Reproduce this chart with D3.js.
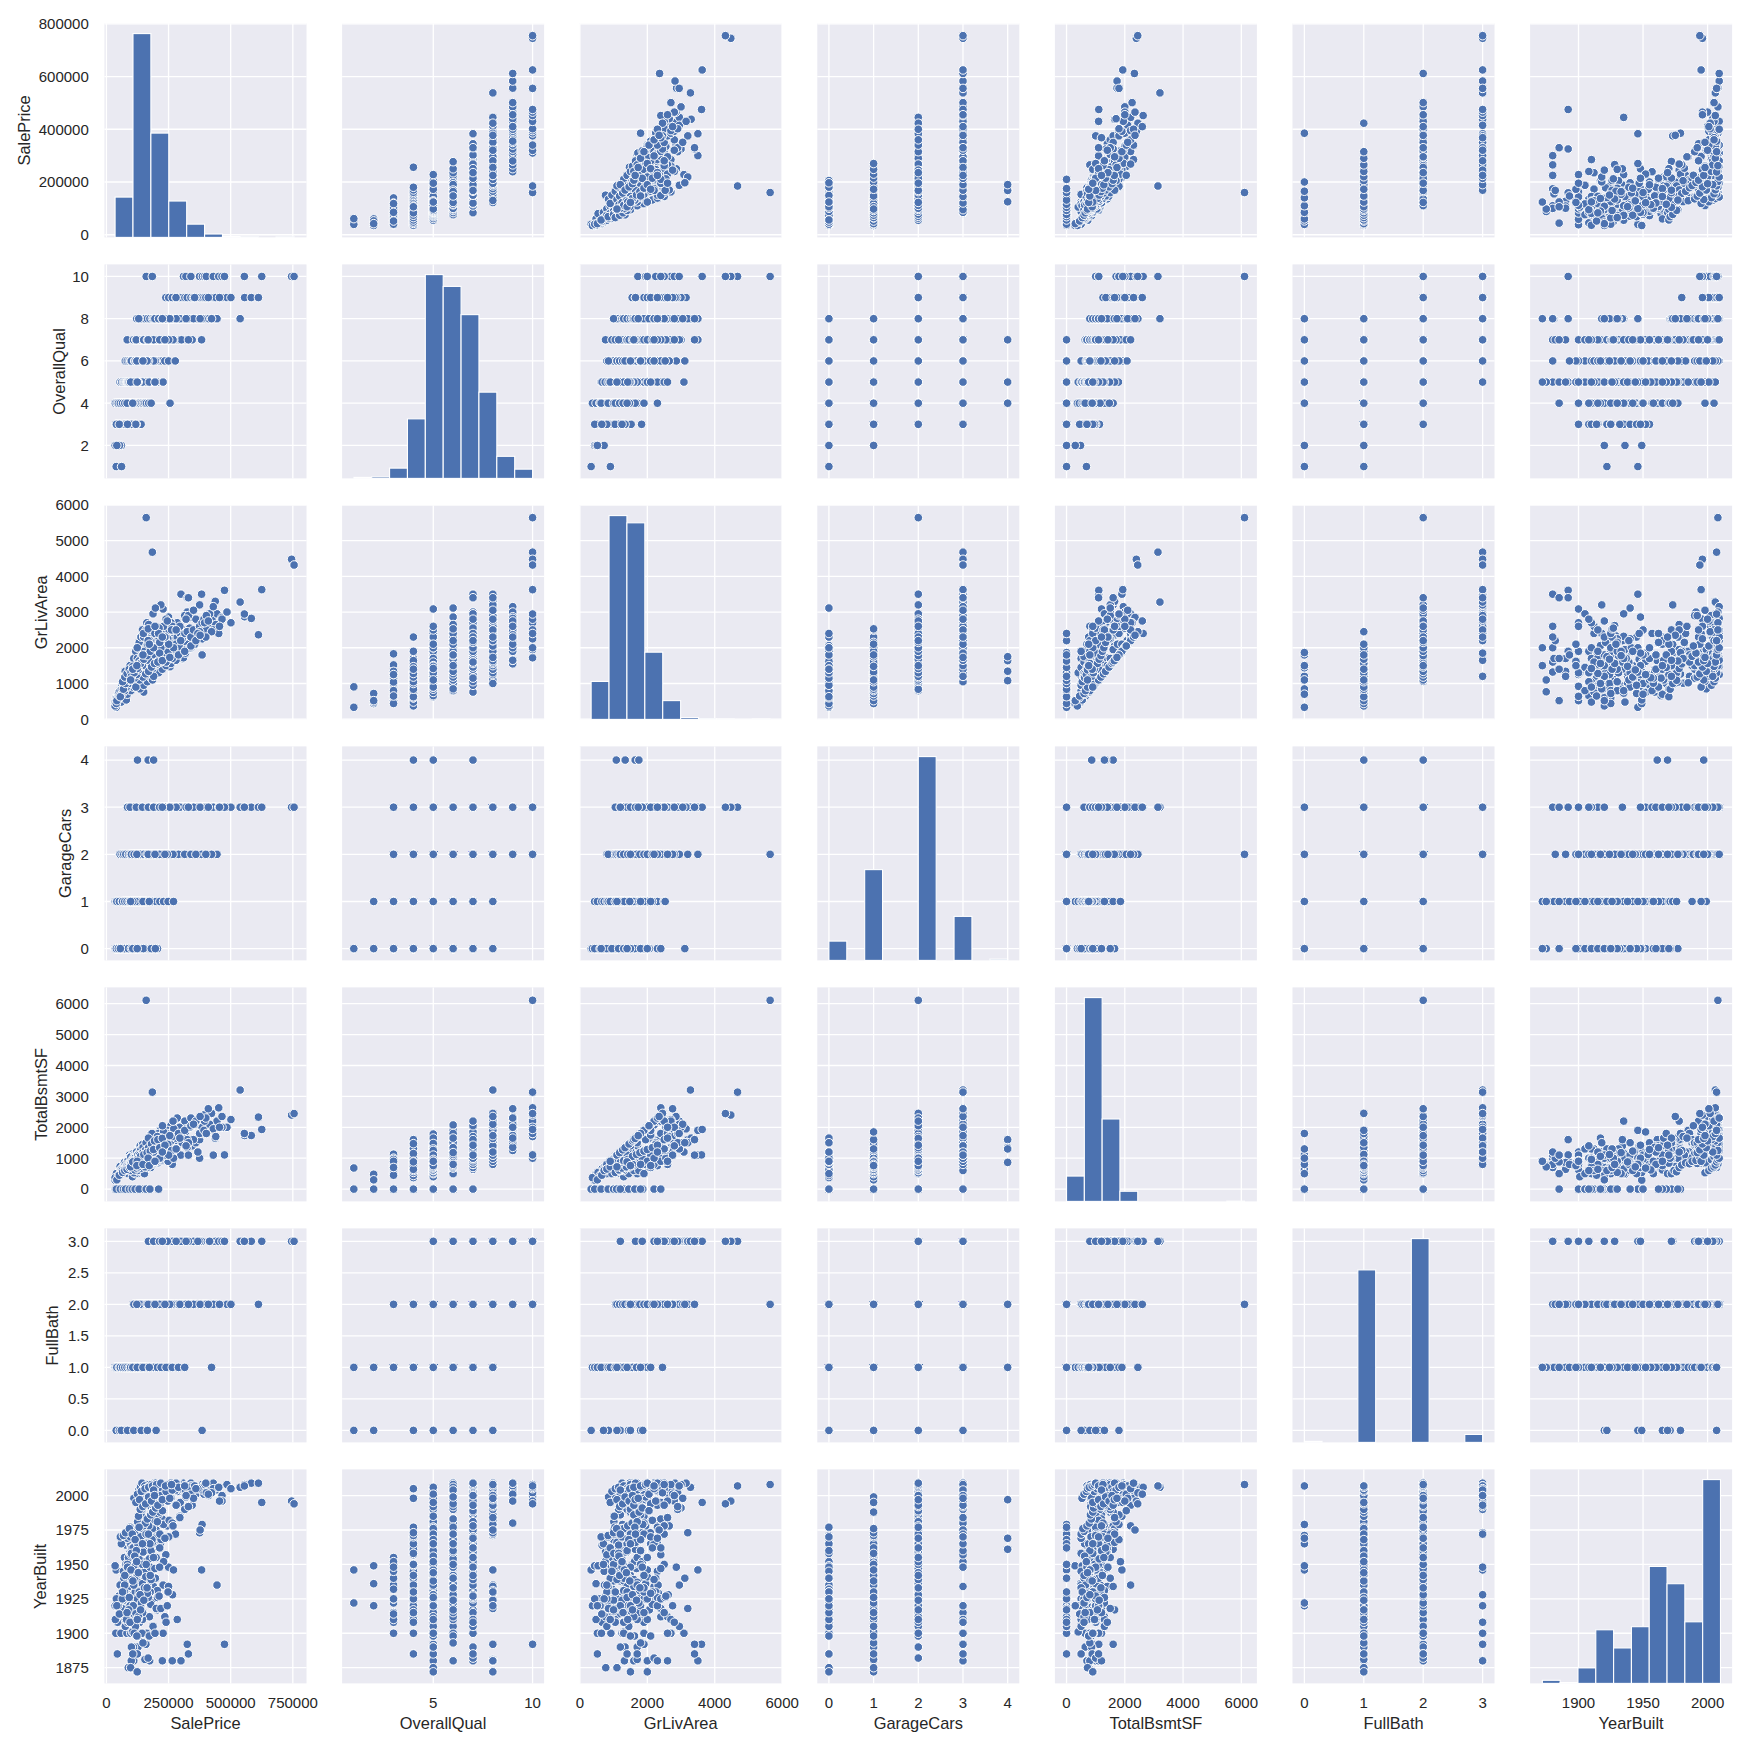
<!DOCTYPE html>
<html>
<head>
<meta charset="utf-8">
<script src="https://d3js.org/d3.v7.min.js"></script>
<style>
body { margin: 0; background: #fff; }
text { font-family: "Liberation Sans", Arial, sans-serif; fill: #262626; }
</style>
</head>
<body>
<svg id="chart"></svg>
<script>
// values, each line of ten is the same ten houses in every array
const salePrice = [
39300,61000,35000,60000,52500,37900,40000,55000,68000,85000,
139600,110000,120000,94500,45000,72500,101800,118000,82000,75500,
34900,44000,58500,66500,79000,87000,93000,99500,106000,113000,
119000,125000,130000,136000,143000,149000,155000,161000,170000,180000,
256000,55000,61500,68400,72500,76000,79900,82500,85000,88000,
91000,94000,97000,100000,103000,106000,109000,112000,115000,118000,
120000,122000,124000,126000,128000,130000,132000,134000,136000,138000,
140000,142000,144000,146000,148000,150000,153000,156000,159000,162000,
165000,168000,172000,175000,179000,183000,188000,195000,205000,228000,
110000,118500,127000,139000,151000,135000,125500,144000,167000,173000,
95000,86000,98000,115000,129000,147000,157000,90000,105000,122000,
76000,84000,92000,98000,105000,110500,115000,119500,124000,127500,
130000,133000,136500,139500,142500,145000,147500,150000,152000,155000,
157500,160000,163000,165500,168500,172000,175000,178000,181500,185000,
189000,193000,198000,204000,210000,217000,225000,235000,250000,277000,
100000,122000,128000,134000,141000,149500,158000,167000,176000,192000,
83500,109000,118000,129900,136000,140000,146000,152500,159000,163500,
168000,171000,174000,177000,180000,183500,187000,190000,193500,197000,
200000,204000,208500,213000,217500,223500,228000,233000,239000,245000,
252000,259000,266000,275000,285000,296000,310000,325000,345000,383000,
120000,155000,172500,185000,195000,206000,220000,260000,302000,150000,
122000,140000,155000,165000,175000,185000,190500,200500,210000,215000,
222000,230000,238000,245500,252500,260000,269500,278000,285000,290000,
297000,307000,315000,325500,335000,345000,360000,375000,392000,412000,
425000,438000,445000,538000,265000,300000,250000,205000,130000,385000,
239000,250580,265000,280000,295000,305000,315750,325000,340000,350000,
375000,385000,392500,403000,415000,430000,440000,465000,485000,501000,
556000,582933,611657,160000,184750,310000,320000,340000,375000,386250,
395000,402000,430000,451950,465000,475000,555000,625000,745000,755000,
165000,172000,178500,184000,191000,197500,203000,212000,224000,236000,
130500,137000,143000,149000,154500,160500,166500,173500,180500,189500,
246000,258000,271000,283000,299000,318000,335500,355000,368000,423000,
80000,87500,96000,103500,108000,113500,117000,121000,126000,131000,
36000,43000,50000,60000,70000,85000,110000,140000,165000,200000,
90000,95500,107000,112500,116000,123500,128500,133500,145000,158500,
127000,138000,145500,162500,176000,187500,205500,219000,240000,325300,
95000,110000,118000,125000,132000,139000,145000,150000,160000,170000,
135000,150000,165000,180000,195000,210000,225000,240000,260000,280000,
55000,63000,70000,78000,85000,89000,96000,102000,108000,114000,
155000,170000,185000,200000,215000,230000,248000,270000,185500,175500,
190000,205000,220000,240000,265000,290000,315000,340000,360000,400000,
112000,126500,138500,148500,156500,164500,178500,186500,198500,216000,
84500,98500,107500,117500,127500,137500,147500,159500,171500,183500,
205000,225500,247000,268000,295500,330000,350500,377000,410000,455000,
40000,48000,73000,88000,100500,113500,126500,149000,180500,197000,
42000,52000,64000,73500,81000,89500,101000,124500,143500,168500,
105000,117000,129000,141000,153000,165000,180000,195000,212000,245000,
56000,68500,77000,92500,104000,115500,131500,160000,175000,210000,
110500,125000,140500,155500,170500,185500,202000,219000,238000,262000,
85000,95000,120500,145000,169000,190000,214000,250500,280500,320500,
118500,133500,146500,158000,169500,181500,193500,207000,225000,255000,
65000,74000,83000,92000,99000,106500,114000,121500,128500,135500,
100500,111500,124500,137500,150500,163500,176500,189500,214500,235500,
97500,106000,124000,122500,147000,168000,172500,195500,225000,330000
];
const overallQual = [
1,1,2,2,2,3,3,3,3,3,
3,3,3,3,3,3,3,3,3,3,
4,4,4,4,4,4,4,4,4,4,
4,4,4,4,4,4,4,4,4,4,
4,5,5,5,5,5,5,5,5,5,
5,5,5,5,5,5,5,5,5,5,
5,5,5,5,5,5,5,5,5,5,
5,5,5,5,5,5,5,5,5,5,
5,5,5,5,5,5,5,5,5,5,
5,5,5,5,5,5,5,5,5,5,
5,5,5,5,5,5,5,5,5,5,
6,6,6,6,6,6,6,6,6,6,
6,6,6,6,6,6,6,6,6,6,
6,6,6,6,6,6,6,6,6,6,
6,6,6,6,6,6,6,6,6,6,
6,6,6,6,6,6,6,6,6,6,
7,7,7,7,7,7,7,7,7,7,
7,7,7,7,7,7,7,7,7,7,
7,7,7,7,7,7,7,7,7,7,
7,7,7,7,7,7,7,7,7,7,
7,7,7,7,7,7,7,7,7,7,
8,8,8,8,8,8,8,8,8,8,
8,8,8,8,8,8,8,8,8,8,
8,8,8,8,8,8,8,8,8,8,
8,8,8,8,8,8,8,8,8,8,
9,9,9,9,9,9,9,9,9,9,
9,9,9,9,9,9,9,9,9,9,
9,9,9,10,10,10,10,10,10,10,
10,10,10,10,10,10,10,10,10,10,
7,7,7,7,7,7,7,7,7,7,
5,5,6,6,6,6,6,6,6,6,
8,8,7,8,8,8,8,9,8,8,
4,5,5,5,5,6,5,5,6,6,
4,4,4,4,4,5,5,5,6,7,
5,4,5,5,6,6,5,6,6,7,
5,5,6,7,6,7,7,8,7,8,
5,5,5,5,6,5,5,6,6,6,
6,7,7,7,8,8,8,8,8,9,
3,4,4,4,4,5,5,5,5,5,
6,6,7,7,7,7,8,8,6,7,
6,7,7,8,8,8,8,8,8,9,
5,5,6,6,6,6,7,7,7,7,
4,4,5,5,5,5,6,6,6,6,
7,7,8,7,8,8,8,8,9,9,
3,4,4,5,4,5,5,6,6,6,
2,3,4,4,4,4,5,5,6,6,
5,5,5,6,6,6,7,7,7,8,
4,4,4,5,5,5,6,6,6,7,
5,5,6,6,6,7,7,7,8,8,
3,4,5,5,6,6,7,7,8,8,
5,6,6,6,6,7,7,7,8,8,
4,4,4,5,5,5,5,5,5,6,
5,5,5,6,6,6,7,7,7,7,
5,4,5,6,6,7,5,5,8,7
];
const grLivArea = [
334,905,438,480,720,520,630,730,900,1100,
1300,1150,1520,960,660,1000,1040,1830,1250,1340,
372,520,640,848,760,1000,1100,900,1230,1150,
1340,1080,1480,1200,1570,1700,1320,1900,1640,2300,
1470,630,800,720,860,1040,660,920,1000,768,
1100,864,1200,912,1040,1144,1320,1000,1260,1092,
1225,1056,1460,1152,1500,1340,1620,1296,1100,1680,
1360,1144,1600,1248,1800,1400,1700,1500,1900,1264,
1650,1344,2000,1500,1782,2250,1840,2117,2060,3086,
1600,1450,1700,1200,1350,1900,1008,1150,1360,2400,
1040,900,1250,1520,1020,1252,1476,840,960,1120,
800,960,1100,1040,1216,1300,1152,1400,1220,1500,
1262,1456,1120,1590,1352,1700,1240,1548,1800,1080,
1638,1400,1900,1470,2000,1760,1262,2150,1580,1650,
2200,1720,2330,1840,2300,1900,2400,2600,2860,2200,
1320,1200,1092,1364,1458,1620,1230,1950,1440,1550,
1250,1340,1500,1774,1400,1717,1450,1600,1900,1320,
1365,1500,2000,1680,1650,1550,2090,1750,1800,2250,
1800,1710,1710,1786,2100,1786,2320,1900,2400,1950,
2500,2050,2620,2300,2700,1900,2500,3000,2850,3500,
1100,1200,1240,1400,1500,1650,1800,2200,2100,760,
1500,1100,1700,1400,2200,1650,1300,2400,1800,1900,
2000,2600,1700,1900,2150,2700,1850,2500,2300,2000,
2400,1694,2900,2100,2550,2300,2800,3200,2450,2650,
2800,3300,2950,3279,2600,3500,1600,1300,1000,1800,
1550,1650,1900,2100,2000,2250,2400,2450,2300,2500,
2600,2700,2800,2500,2950,3150,2650,2850,3000,2700,
2868,2822,2364,5642,4676,1720,1950,2000,2450,2250,
2700,2900,2500,2400,2800,3608,2945,3627,4476,4316,
1470,1500,1580,1650,1700,1480,1820,1600,1900,2050,
1050,1200,1250,1100,1350,1450,1500,1600,1640,1800,
1800,1750,1950,1700,2200,1850,2000,2100,2400,2450,
540,750,864,864,960,1040,1092,1200,1000,1120,
480,600,760,700,1000,1200,1100,1440,1866,1500,
1000,1300,1500,1250,1400,1600,1700,1800,1950,2000,
2000,2300,2500,2700,2250,2950,2300,3200,2800,3400,
1500,1700,1900,2000,2150,2300,2500,2300,2500,2650,
850,950,1050,1150,1250,1300,1400,1500,1560,1650,
800,850,900,1000,1050,1100,840,1150,1200,1250,
1300,1500,1400,1700,1600,1850,1900,2000,1100,1500,
1500,1550,1650,1600,1700,1800,1900,2050,2200,2300,
1000,1180,1300,1420,1550,1680,1600,1760,1850,2100,
700,800,900,1008,1150,1250,1350,1500,1650,1800,
1700,2050,2250,2500,2600,2900,3050,2350,2750,2600,
440,600,800,950,1150,1300,1400,2400,1800,3112,
520,650,720,800,900,1000,1100,1700,1900,2530,
1300,1450,1600,1750,1900,2100,2200,2400,2550,2750,
630,840,1000,1090,1200,1450,1630,1800,2200,2400,
1060,1200,1350,1480,1600,1800,1950,2000,2200,2500,
1250,1300,1400,1500,1650,1200,1850,2100,2500,2800,
900,1100,1180,1270,1340,1460,1560,1600,1640,1730,
1050,1180,1280,1400,1320,1480,1160,1250,1380,1560,
1200,1300,1420,1560,1680,1780,1900,2000,2150,2300,
1100,1400,2000,1500,1800,2200,2100,2600,2300,3400
];
const garageCars = [
0,0,1,0,0,0,1,0,1,1,
1,2,1,0,0,1,2,0,3,1,
0,0,1,0,1,1,2,1,1,2,
1,4,1,2,2,1,2,0,4,2,
2,0,0,1,1,0,1,1,1,0,
1,1,1,1,2,1,1,2,1,1,
1,1,2,2,1,2,0,2,2,1,
2,2,2,2,2,1,2,2,1,2,
2,4,2,2,3,2,1,2,0,3,
1,0,1,2,2,0,2,2,2,2,
0,0,1,1,2,2,2,1,1,1,
0,0,1,1,1,1,2,0,1,2,
2,1,1,2,2,1,2,2,0,2,
2,2,1,2,2,2,2,2,2,2,
2,2,2,3,2,2,3,2,2,3,
1,2,1,2,1,0,2,2,2,2,
1,1,1,2,2,3,2,2,1,2,
2,2,1,2,2,2,2,4,2,2,
2,3,2,2,2,2,2,3,3,2,
3,3,2,3,3,2,3,3,3,2,
1,1,2,2,2,2,2,3,3,1,
1,0,1,2,2,2,2,2,2,2,
2,2,2,3,2,3,2,3,2,3,
3,2,3,3,3,3,3,3,3,3,
3,3,2,3,3,3,3,2,1,3,
2,2,3,3,3,3,3,3,3,3,
3,3,3,3,3,3,3,3,3,3,
3,3,3,2,3,3,3,2,3,3,
3,3,3,3,3,3,3,3,3,3,
2,2,2,2,2,2,2,3,3,3,
2,2,2,2,2,2,2,2,2,2,
3,3,2,3,3,3,3,3,3,2,
0,1,1,1,1,1,1,1,2,1,
0,0,1,0,1,1,1,1,2,2,
1,1,1,1,1,1,1,1,2,1,
0,1,1,2,2,2,0,2,2,3,
1,1,0,1,1,2,1,2,2,2,
1,2,2,2,2,2,2,2,3,3,
2,2,2,2,3,2,2,2,3,2,
1,1,1,1,1,1,1,1,0,0,
2,2,2,2,2,2,2,2,2,2,
1,2,2,2,2,2,2,2,2,2,
1,1,1,1,2,1,2,2,2,2,
2,2,2,2,3,3,3,3,3,3,
0,0,0,0,0,0,0,0,0,0,
1,1,1,1,1,1,1,1,1,1,
1,1,1,1,2,2,2,2,2,2,
0,1,1,1,2,2,2,2,2,2,
2,2,2,2,2,2,2,2,3,3,
3,3,3,3,3,3,3,3,3,3,
1,2,2,2,2,2,2,2,2,3,
1,1,1,1,1,1,2,2,2,2,
2,2,2,2,2,2,2,2,2,2,
1,0,0,2,1,2,1,2,3,3
];
const totalBsmtSF = [
0,683,290,480,0,0,500,730,530,810,
1130,790,1000,960,0,816,720,0,900,620,
372,0,640,600,0,780,1100,880,1000,860,
960,864,1220,1200,1300,1000,1320,1000,1600,1150,
1470,0,620,720,860,800,660,0,920,768,
864,864,1000,912,1040,1144,0,1000,960,1092,
1056,1056,1150,1152,600,1340,850,1296,1100,1400,
1360,1144,1150,1248,1000,1400,1080,1500,900,1264,
1160,1344,1100,1500,1782,1200,1000,1150,1650,1200,
720,0,800,1200,1350,1000,1008,1150,1360,1100,
1040,900,630,1000,1020,1252,1476,840,960,1120,
0,800,800,1040,900,1000,1152,0,860,1000,
1262,1000,1120,1100,1352,900,1240,1200,800,1080,
830,1400,910,1470,1050,880,1262,1100,1580,830,
1180,900,1040,920,1600,1900,1200,1300,1420,2076,
700,1200,1092,1364,0,800,1230,975,1440,1550,
800,640,700,952,1400,756,1450,800,900,1320,
1365,1500,1000,840,830,1550,1107,1300,900,1120,
1000,1400,856,920,1050,920,1160,1250,1200,1600,
1300,2050,1250,1560,1300,1900,1700,1500,1400,1900,
1100,800,1240,1400,1500,1650,1800,1400,1750,760,
900,1100,840,1400,1100,1650,1300,1200,1800,1000,
1040,1300,1700,1900,1100,1350,1850,1300,2300,2000,
1800,1686,1450,2100,2000,2200,1500,1600,2400,1900,
2000,1650,2200,3206,800,1100,1600,1300,1000,1800,
1550,1650,1250,1900,2000,1500,2200,1350,2300,1600,
1800,2000,1900,2200,2100,1950,1700,2350,2000,2250,
1734,1734,2330,6110,3138,1700,1950,2000,1000,2250,
2200,1800,1100,2630,2000,1107,1800,1930,2396,2444,
1470,1500,700,800,850,1480,900,1600,950,1000,
1050,1200,1250,1100,1350,1450,740,800,820,900,
1800,1750,1950,1700,1100,1850,2000,2100,1200,2450,
540,750,864,864,960,1040,1092,1200,1000,1120,
0,0,0,620,0,500,800,1300,0,1000,
600,700,800,700,900,650,750,1000,1000,800,
1000,1100,1200,1100,1150,1300,1100,1500,1400,1600,
600,500,800,700,750,1000,900,760,1000,1200,
850,950,1050,1150,1250,1300,1400,1500,1560,1650,
500,0,600,700,0,800,840,900,1000,1000,
1300,1400,1100,1500,1600,1850,900,1000,1100,800,
1500,1550,1650,1600,1700,1800,1900,2050,2200,2300,
500,600,560,700,780,850,820,900,930,1040,
0,800,0,500,1150,1250,1350,1500,1650,1800,
1700,2050,1450,2200,1650,1500,2100,2350,2600,2000,
0,440,0,500,900,0,1100,1000,1200,1500,
300,450,600,650,720,0,900,500,800,1300,
400,500,600,600,500,700,800,900,1000,1100,
0,0,0,0,0,0,0,0,0,0,
530,600,680,720,780,880,950,1000,1100,1250,
700,600,800,900,1650,1200,1000,1100,1300,1400,
900,1100,1180,1270,1340,1460,1560,1600,1640,1730,
540,600,640,700,800,880,620,680,720,800,
860,920,960,1060,1120,1180,1230,1280,1340,1420,
720,880,900,760,800,1000,760,900,1200,1100
];
const fullBath = [
0,1,1,1,0,1,1,1,1,1,
1,1,1,1,1,1,1,2,1,1,
1,1,1,0,1,1,1,1,1,1,
1,1,2,1,1,2,2,2,1,2,
2,1,1,1,1,1,1,1,1,1,
1,1,1,1,1,1,1,1,1,1,
1,1,2,1,2,1,1,1,1,1,
1,1,2,1,2,1,2,1,2,2,
2,2,2,2,2,2,2,2,1,3,
1,1,2,2,1,1,1,1,2,2,
1,1,1,1,1,1,1,1,1,1,
1,1,1,1,1,1,1,1,1,1,
1,1,1,2,1,2,2,2,2,2,
2,2,2,2,2,2,2,2,2,2,
2,2,2,2,2,2,2,2,2,3,
1,1,1,1,1,1,2,2,2,2,
1,1,1,2,2,1,2,2,2,2,
2,2,2,2,2,2,2,2,2,2,
2,2,2,2,2,2,2,2,2,2,
2,2,3,2,2,2,2,3,2,3,
1,1,1,2,2,2,2,2,2,1,
1,0,1,1,2,2,2,2,2,2,
2,2,2,2,2,2,2,2,2,2,
2,2,3,2,2,2,2,3,2,2,
2,3,2,3,3,3,2,2,1,0,
2,2,2,2,2,2,2,2,2,3,
2,2,2,2,3,2,2,3,2,2,
3,3,2,2,3,2,2,2,2,2,
2,2,2,3,3,3,3,3,3,3,
2,2,2,2,2,2,2,2,2,2,
1,1,2,2,2,2,2,2,2,2,
2,2,2,2,2,2,2,2,3,1,
1,1,1,1,1,1,1,1,1,1,
1,1,1,0,1,0,0,0,0,0,
1,1,1,1,1,2,1,2,2,2,
2,2,2,2,2,2,2,2,3,3,
1,2,2,2,2,2,2,2,2,2,
1,1,1,2,2,2,2,2,2,2,
1,1,1,1,1,1,1,1,2,1,
1,1,1,1,1,1,1,1,1,1,
1,1,1,1,1,1,1,2,2,2,
1,1,2,2,2,2,2,2,2,2,
1,1,1,1,1,1,1,1,2,2,
2,2,2,2,2,3,2,2,2,2,
1,1,1,1,1,1,1,2,2,2,
1,1,1,1,1,1,1,2,2,2,
1,1,1,2,2,2,2,2,2,3,
1,1,1,1,1,1,2,2,2,2,
2,2,2,2,2,2,2,2,2,2,
1,1,1,2,3,3,3,2,3,3,
1,2,2,2,2,2,2,2,2,2,
1,1,1,1,1,1,1,1,1,2,
1,1,1,1,1,2,2,2,2,2,
1,1,1,2,1,2,1,2,3,2
];
const yearBuilt = [
1946,1922,1949,1936,1920,1900,1910,1935,1922,1955,
1950,1914,1940,1932,1908,1925,1945,1910,1952,1915,
1920,1885,1900,1922,1912,1938,1968,1950,1928,1965,
1936,1961,1925,1970,1977,1950,1998,1932,1961,1945,
2005,1920,1930,1945,1955,1910,1964,1900,1950,1875,
1948,1958,1938,1962,1970,1960,1926,1975,1940,1953,
1956,1967,1931,1968,1919,1972,1898,1974,1977,1947,
1965,1976,1950,1966,1915,1959,1928,1978,1892,1979,
1971,1969,1940,1973,1995,1924,1937,1982,1917,1900,
1880,1905,1890,1986,2005,1908,1981,1990,2001,1912,
1977,1910,1900,1916,1985,1992,2006,1934,1943,1951,
1905,1915,1925,1964,1947,1938,1960,1920,1954,1942,
1967,1930,1958,1918,1972,1910,1976,1950,1926,2000,
1975,1993,1935,2005,1940,1969,1976,1921,2006,1998,
1934,2001,1929,2003,1979,2007,1983,1912,1948,2008,
1880,1968,1956,1963,1940,1952,2004,1997,2008,2009,
1917,1890,1922,1931,1990,1915,2006,1939,1925,2003,
2004,1999,1880,1994,1992,2007,1973,1997,2000,1940,
1975,2006,2003,2001,1965,2002,1935,2005,1957,1978,
2004,2008,1928,2007,1910,1985,2009,1991,2006,1946,
1950,1945,1954,1962,1988,1970,1968,2009,2003,1959,
1872,1971,1881,1934,1929,1976,1994,1918,1986,1972,
1998,1979,2005,2007,1982,1998,2008,1972,2003,2006,
1995,2004,1990,2008,2005,1993,2001,1973,2007,2000,
2003,2006,1935,2006,1880,1880,1934,1931,1924,1979,
2006,1999,1980,2004,2008,2005,2003,2007,2009,2006,
2005,2008,2001,2007,2006,2009,2004,2000,2008,2005,
2008,2009,2009,2008,2007,2005,1999,2007,2006,2004,
2008,2002,2005,2006,1996,1892,2007,1995,1996,1994,
2005,2006,2007,2004,2003,2009,2002,2008,2007,2005,
2004,2006,2009,2005,2007,2005,2006,2003,2008,2004,
2006,2007,2008,2009,2005,2004,2006,2007,2005,2002,
1949,1952,1957,1961,1955,1963,1965,1959,1968,1954,
1910,1925,1927,1965,1918,1969,1949,1922,1979,2007,
1916,1921,1928,1924,1930,1926,1937,1920,1936,1941,
1910,1920,1915,1900,1930,1905,1926,1918,1908,1892,
1920,1935,1915,1925,1930,1977,1950,1965,1972,1978,
1999,2003,2005,2006,2004,2007,2005,2008,2006,2009,
1925,1918,1940,1950,1908,1955,1970,1962,1920,1971,
1960,1965,1940,1955,1988,1952,1930,1946,1966,1948,
1990,1994,2000,2003,2004,2006,2007,2001,2005,2009,
1972,1974,1976,1978,1980,1983,1986,1988,1991,1994,
1950,1957,1962,1958,1964,1970,1959,1972,1966,1968,
1981,1989,1996,1978,1984,1992,1998,1975,2001,1996,
1925,1920,1930,1945,1958,1940,1965,1925,1960,1940,
1920,1914,1925,1935,1910,1917,1939,1885,1900,1926,
1901,1905,1912,1922,1933,1929,1939,1947,1927,1920,
1970,1971,1973,1976,1972,1968,1977,1950,1965,1962,
1998,2001,2003,2005,2006,2007,2008,2009,2007,2008,
1948,1908,1960,1965,1972,2004,1948,1970,1993,2000,
1995,1997,1992,1994,1999,1996,2000,1993,1997,1998,
1930,1942,1915,1926,1946,1938,1956,1952,1944,1928,
1890,1900,1910,1917,1924,1933,1942,1955,1962,1969,
1875,1885,1872,1898,1893,1882,1898,1900,1880,1885
];

// bar heights of the diagonal, ten equal bins between each variable's min and max
const salePriceCounts = [143,723,370,129,47,12,3,2,0,2];
const overallQualCounts = [2,3,20,116,397,374,319,168,43,18];
const grLivAreaCounts = [105,564,544,186,52,5,2,1,0,1];
const garageCarsCounts = [78,0,367,0,0,824,0,178,0,5];
const totalBsmtSFCounts = [115,925,374,46,0,0,0,0,0,1];
const fullBathCounts = [4,0,0,650,0,0,768,0,0,30];
const yearBuiltCounts = [7,2,35,121,80,128,264,225,139,460];

const names = ['SalePrice','OverallQual','GrLivArea','GarageCars','TotalBsmtSF','FullBath','YearBuilt'];
const columns = [salePrice,overallQual,grLivArea,garageCars,totalBsmtSF,fullBath,yearBuilt];
const counts = [salePriceCounts,overallQualCounts,grLivAreaCounts,garageCarsCounts,totalBsmtSFCounts,fullBathCounts,yearBuiltCounts];
const binRanges = [[34900,755000],[1,10],[334,5642],[0,4],[0,6110],[0,3],[1872,2010]];

const xDomains = [[-7700,805000],[0.41,10.58],[-5,5985],[-0.26,4.26],[-400,6535],[-0.2,3.2],[1862.5,2019]];
const yDomains = [[-10100,801500],[0.44,10.57],[-5,5985],[-0.25,4.29],[-398,6527],[-0.19,3.205],[1863.6,2019]];
const xTicks = [[0,250000,500000,750000],[5,10],[0,2000,4000,6000],[0,1,2,3,4],[0,2000,4000,6000],[0,1,2,3],[1900,1950,2000]];
const yTicks = [
    [0,200000,400000,600000,800000],
    [2,4,6,8,10],
    [0,1000,2000,3000,4000,5000,6000],
    [0,1,2,3,4],
    [0,1000,2000,3000,4000,5000,6000],
    [0,0.5,1,1.5,2,2.5,3],
    [1875,1900,1925,1950,1975,2000]
];
const yTickFormat = [String,String,String,String,String,d3.format('.1f'),String];
const yLabelX = [24,59,41,65,41,52,40];

const panelW = 202, panelH = 214, stepX = 237.6, stepY = 241;
const panelLeft = 104.5, panelTop = 23.4;
const blue = '#4c72b0', panelBg = '#eaeaf2';

const svg = d3.select('#chart').attr('width',1750).attr('height',1750);

names.forEach((rowName,i) => {
    names.forEach((colName,j) => {
        let x = d3.scaleLinear().domain(xDomains[j]).range([0,panelW]);
        let y = d3.scaleLinear().domain(yDomains[i]).range([panelH,0]);
        let g = svg.append('g').attr('transform',`translate(${panelLeft+j*stepX},${panelTop+i*stepY})`);

        g.append('rect').attr('width',panelW).attr('height',panelH).attr('fill',panelBg);

        g.selectAll('line.gx').data(xTicks[j]).join('line').attr('class','gx')
            .attr('x1',d=>x(d)).attr('x2',d=>x(d)).attr('y1',0).attr('y2',panelH)
            .attr('stroke','#fff').attr('stroke-width',1.3);
        g.selectAll('line.gy').data(yTicks[i]).join('line').attr('class','gy')
            .attr('y1',d=>y(d)).attr('y2',d=>y(d)).attr('x1',0).attr('x2',panelW)
            .attr('stroke','#fff').attr('stroke-width',1.3);

        if (i === j) {
            // histogram on its own count scale, sharing only the x axis
            let c = counts[i];
            let [lo,hi] = binRanges[i];
            let w = (hi-lo)/c.length;
            let h = d3.scaleLinear().domain([0,d3.max(c)*1.05]).range([panelH,0]);
            g.selectAll('rect.bar').data(c).join('rect').attr('class','bar')
                .attr('x',(d,k)=>x(lo+k*w))
                .attr('width',x(lo+w)-x(lo))
                .attr('y',d=>h(d))
                .attr('height',d=>panelH-h(d))
                .attr('fill',blue).attr('stroke','#fff').attr('stroke-width',1.1);
        } else {
            g.selectAll('circle').data(d3.range(salePrice.length)).join('circle')
                .attr('cx',k=>x(columns[j][k]))
                .attr('cy',k=>y(columns[i][k]))
                .attr('r',4.3)
                .attr('fill',blue).attr('stroke','#fff').attr('stroke-width',1);
        }

        if (j === 0) {
            g.selectAll('text.ty').data(yTicks[i]).join('text').attr('class','ty')
                .attr('x',-15.7).attr('y',d=>y(d)+5.4)
                .attr('text-anchor','end').attr('font-size',15)
                .text(yTickFormat[i]);
            g.append('text')
                .attr('transform',`translate(${yLabelX[i]-panelLeft+5.5},${panelH/2}) rotate(-90)`)
                .attr('text-anchor','middle').attr('font-size',16.4)
                .text(rowName);
        }
        if (i === names.length-1) {
            g.selectAll('text.tx').data(xTicks[j]).join('text').attr('class','tx')
                .attr('x',d=>x(d)).attr('y',panelH+25)
                .attr('text-anchor','middle').attr('font-size',15)
                .text(d=>d);
            g.append('text')
                .attr('x',panelW/2).attr('y',panelH+46)
                .attr('text-anchor','middle').attr('font-size',16.4)
                .text(colName);
        }
    });
});
</script>
</body>
</html>
